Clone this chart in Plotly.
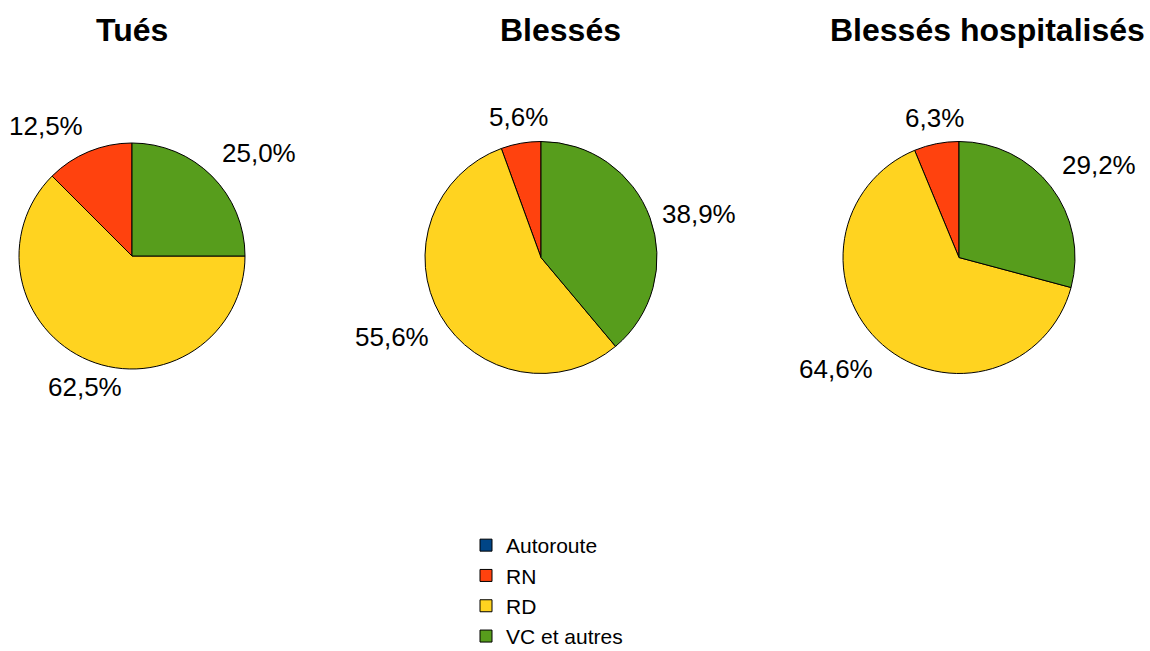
import math
from decimal import Decimal, ROUND_HALF_UP
import plotly.graph_objects as go

W, H = 1150, 651

categories = ["Autoroute", "RN", "RD", "VC et autres"]
colors = ["#004586", "#ff420e", "#ffd320", "#579d1c"]

titles = ["Tués", "Blessés", "Blessés hospitalisés"]
tues = [0, 1, 5, 2]
blesses = [0, 1, 10, 7]
hospitalises = [0, 3, 31, 14]
series = [tues, blesses, hospitalises]

# pixel layout: (center x, center y, radius)
pies = [(132, 256, 113), (541, 257.5, 116), (959, 257.5, 116)]
title_x = [132, 560, 988]
LABEL_GAP = 11

FONT = "Liberation Sans"


def fmt_pct(v, total):
    d = (Decimal(v) * 100 / Decimal(total)).quantize(Decimal("0.1"), rounding=ROUND_HALF_UP)
    return (str(d) + "%").replace(".", ",")


fig = go.Figure()
for i, (vals, (cx, cy, r)) in enumerate(zip(series, pies)):
    fig.add_trace(go.Pie(
        labels=categories,
        values=vals,
        sort=False,
        direction="counterclockwise",
        rotation=0,
        marker=dict(colors=colors, line=dict(color="#000000", width=1)),
        textinfo="none",
        hoverinfo="label+percent",
        showlegend=(i == 0),
        domain=dict(x=[(cx - r) / W, (cx + r) / W], y=[1 - (cy + r) / H, 1 - (cy - r) / H]),
        automargin=False,
    ))
    # outside percentage labels, placed along each slice's mid-angle
    total = sum(vals)
    cum = 0.0
    for v in vals:
        if v <= 0:
            continue
        mid = (cum + v / 2) / total * 2 * math.pi  # counterclockwise from 12 o'clock
        cum += v
        dx = -math.sin(mid)          # screen x
        dy = math.cos(mid)           # paper y (up)
        ax = cx + dx * (r + LABEL_GAP)
        ay = cy - dy * (r + LABEL_GAP)
        s = math.sin(math.radians(22.5))
        xanchor = "center" if abs(dx) < s - 1e-9 else ("left" if dx > 0 else "right")
        yanchor = "middle" if abs(dy) < s - 1e-9 else ("bottom" if dy > 0 else "top")
        if abs(abs(dx) - s) < 1e-6:
            xanchor = "right" if dy > 0 else "center"
        if yanchor == "bottom":
            ay += 2
        elif yanchor == "top":
            ay -= 1
        fig.add_annotation(
            text=fmt_pct(v, total), x=ax / W, y=1 - ay / H, xref="paper", yref="paper",
            xanchor=xanchor, yanchor=yanchor, showarrow=False,
            font=dict(family=FONT, size=26, color="#000000"),
        )

for t, tx in zip(titles, title_x):
    fig.add_annotation(
        text="<b>%s</b>" % t, x=tx / W, y=1 - 30 / H, xref="paper", yref="paper",
        xanchor="center", yanchor="middle", showarrow=False,
        font=dict(family=FONT, size=32, color="#000000"),
    )

fig.update_layout(
    width=W, height=H,
    margin=dict(l=0, r=0, t=0, b=0, autoexpand=False),
    paper_bgcolor="white", plot_bgcolor="white",
    font=dict(family=FONT, color="#000000"),
    legend=dict(
        x=466 / W, y=1 - 525 / H, xanchor="left", yanchor="top",
        font=dict(family=FONT, size=21, color="#000000"),
        itemwidth=30, bgcolor="rgba(0,0,0,0)",
    ),
)

fig.write_html("out.html", config={"displayModeBar": False},
               post_script="document.body.style.margin='0px';")
